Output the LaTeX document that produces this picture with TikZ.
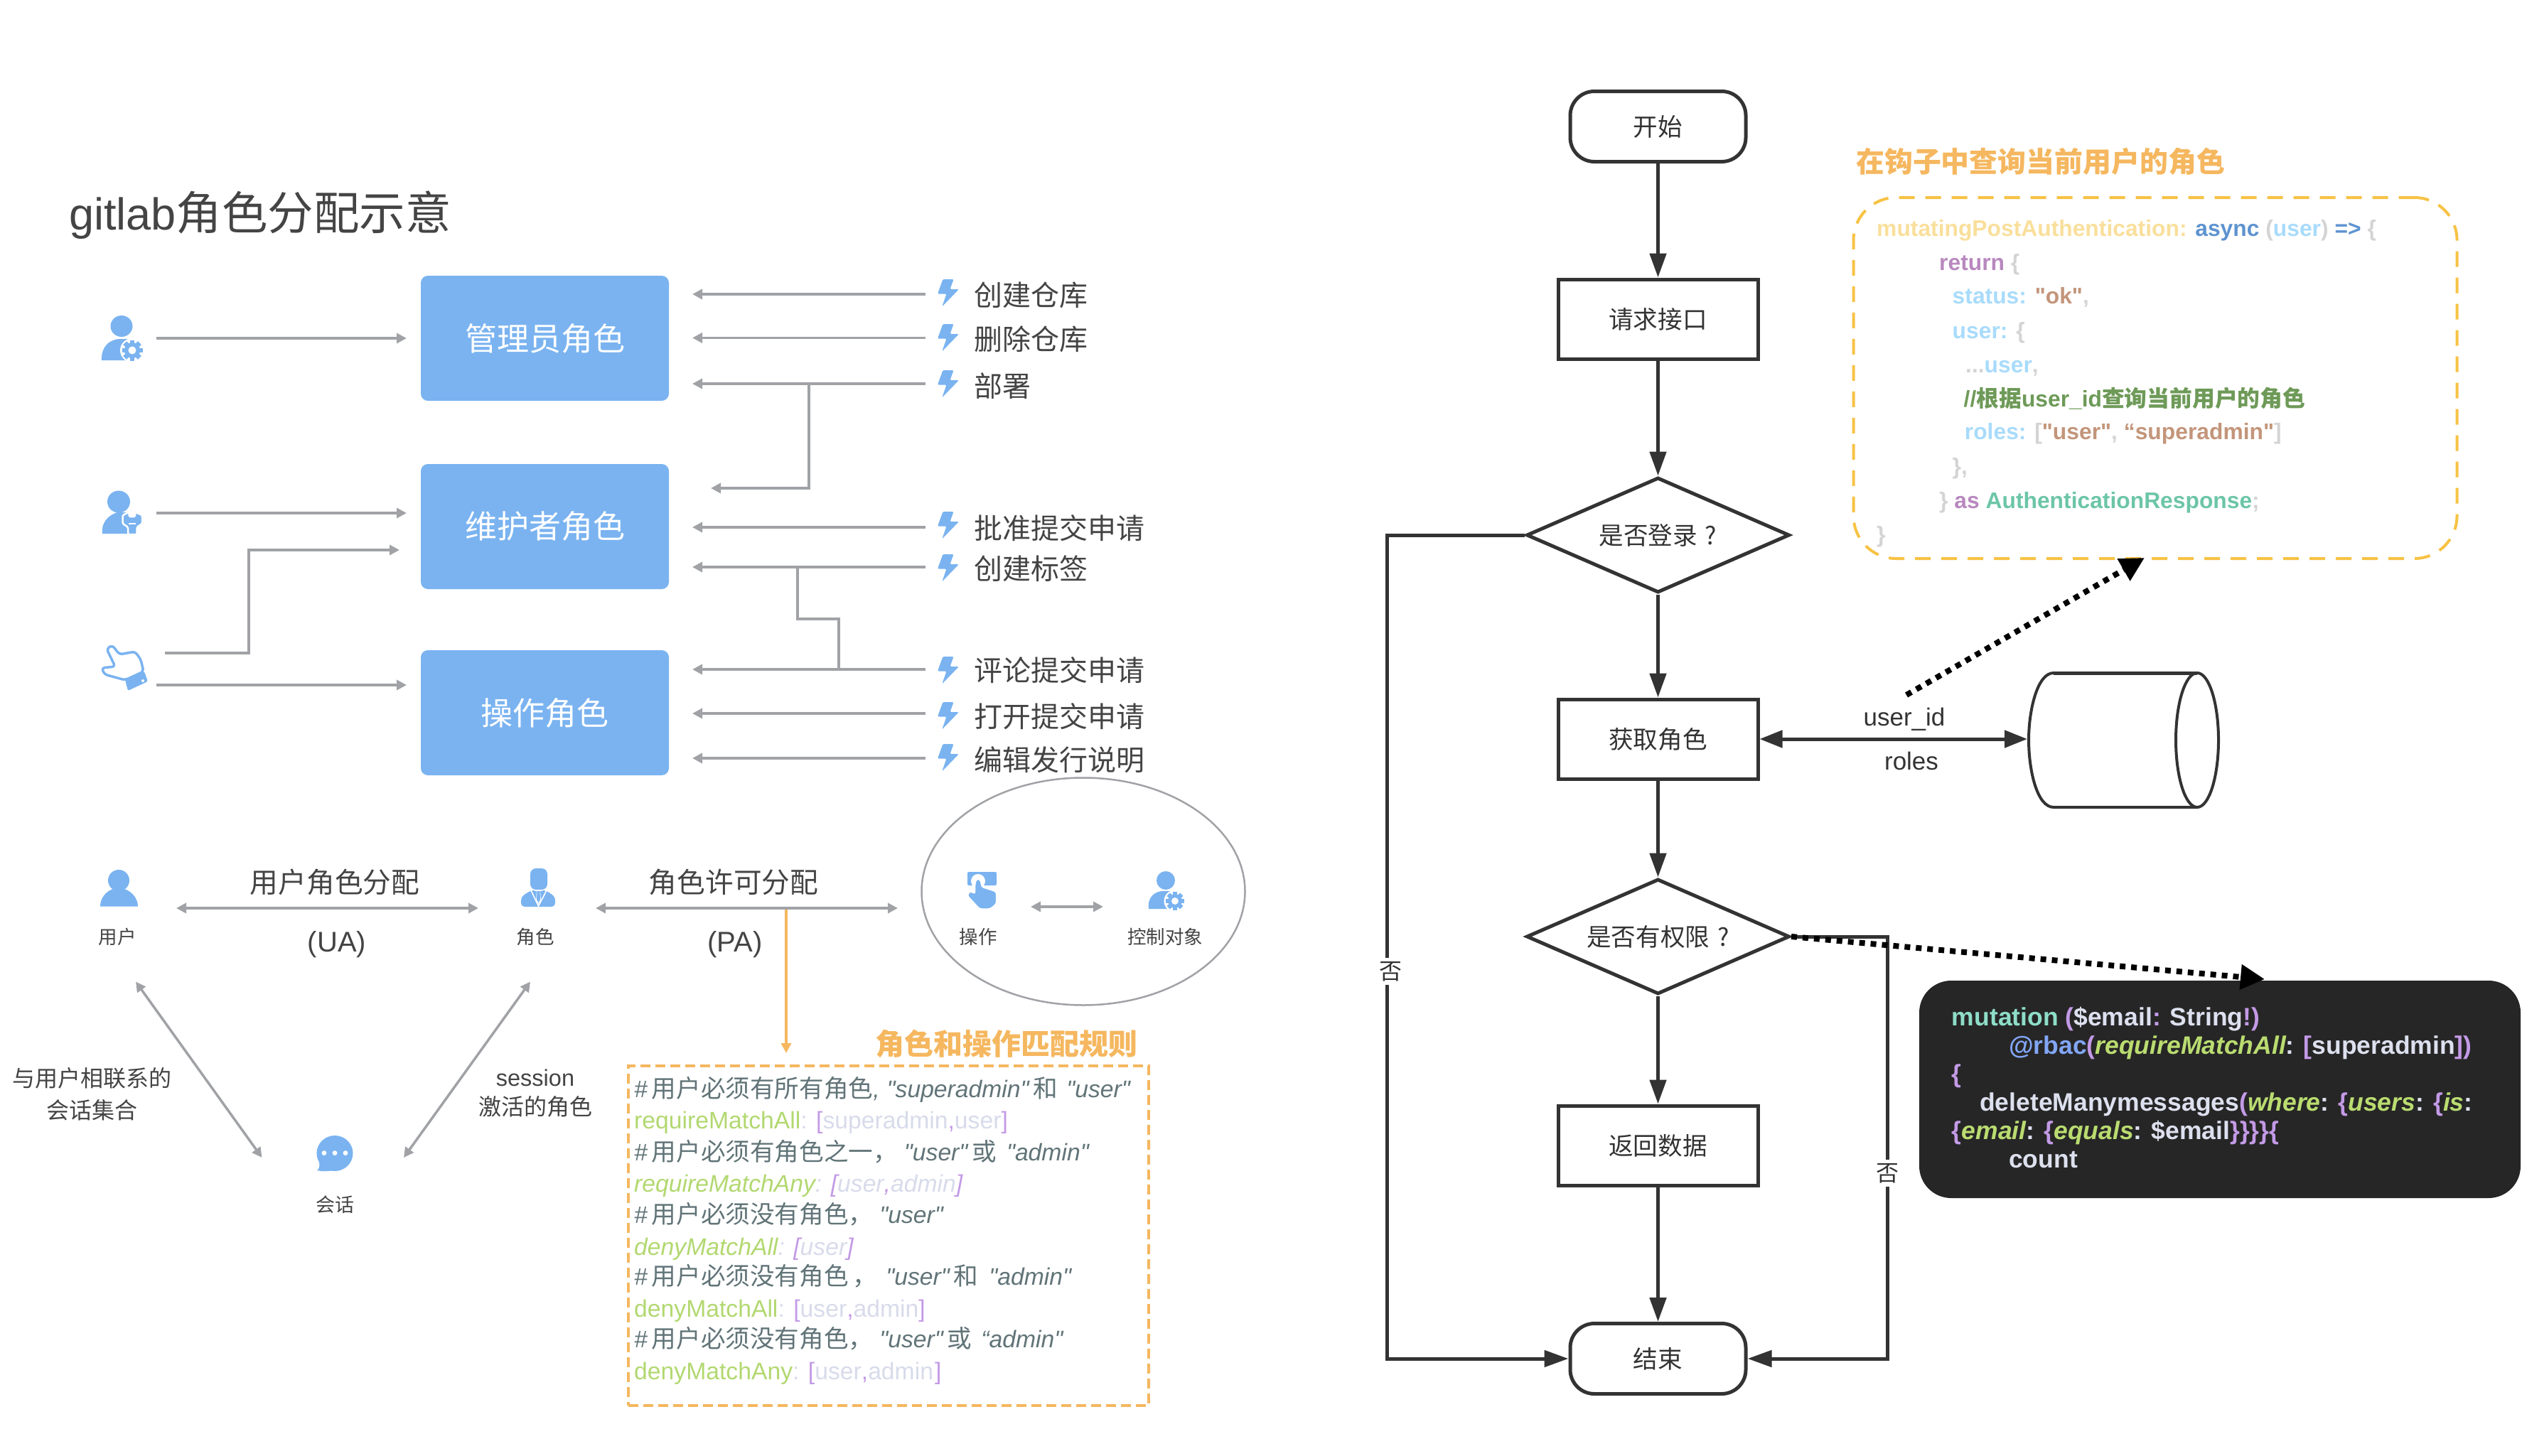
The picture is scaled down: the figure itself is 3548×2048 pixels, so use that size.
\documentclass[tikz,border=0pt]{standalone}
\usepackage{fontspec}
\usetikzlibrary{arrows.meta,shapes.geometric}
\setmainfont{Liberation Sans}
\newfontfamily\latinf{Liberation Sans}
\AtBeginDocument{\latinf}
\newfontfamily\zhfont{Noto Sans CJK SC}
\newcommand\zh[1]{{\zhfont #1}}
\newcommand\fs[1]{\fontsize{#1}{#1}\selectfont}
\newcommand\zb[1]{{\zhfont\fs{34.6}#1}}
\definecolor{iconblue}{HTML}{7AB3F0}
\definecolor{linegray}{HTML}{A0A2A6}
\definecolor{inkgray}{HTML}{444444}
\definecolor{flowink}{HTML}{333333}
\definecolor{orangeline}{HTML}{F5B75F}
\definecolor{yellowline}{HTML}{F7C244}
\definecolor{cmt}{HTML}{617478}
\definecolor{gr}{HTML}{B2D870}
\definecolor{pu}{HTML}{C39AE6}
\definecolor{lav}{HTML}{D7DBEA}
\definecolor{cya}{HTML}{F9DF9B}
\definecolor{cbl}{HTML}{5E93D0}
\definecolor{clb}{HTML}{A8DBFB}
\definecolor{cgy}{HTML}{D4D4D4}
\definecolor{cpu}{HTML}{B888BE}
\definecolor{cbr}{HTML}{C3957A}
\definecolor{cgn}{HTML}{6E9A58}
\definecolor{ctl}{HTML}{6CC5A8}
\definecolor{dte}{HTML}{8EDDC8}
\definecolor{dbl}{HTML}{82A6F6}
\definecolor{dwh}{HTML}{DDE0EE}
\definecolor{dgr}{HTML}{BADC70}
\newcommand\gearicon[3]{%
  \fill[white] (#1,#2) circle ({#3+2.5});
  \foreach \a in {0,45,...,315}
    \fill[iconblue,rotate around={\a:(#1,#2)}] ({#1-#3*0.22},{#2-#3}) rectangle ({#1+#3*0.22},{#2+#3});
  \fill[iconblue] (#1,#2) circle ({#3*0.76});
  \fill[white] (#1,#2) circle ({#3*0.38});
}
\tikzset{
  role/.style={rectangle,rounded corners=10pt,fill=iconblue,minimum width=349pt,minimum height=176pt,inner sep=0pt,text=white,font=\zhfont\fs{45}},
  act/.style={anchor=west,inner sep=0pt,text=inkgray,font=\zhfont\fs{40}},
  lbl/.style={inner sep=0pt,text=inkgray,align=center},
  grayline/.style={draw=linegray,line width=3.5pt},
  grayarr/.style={grayline,-{Triangle[length=14pt,width=14pt]}},
  graydbl/.style={grayline,{Triangle[length=14pt,width=14pt]}-{Triangle[length=14pt,width=14pt]}},
  boltpic/.pic={\fill[iconblue,rounded corners=1.5pt] (-7.6,-19)--(7.6,-19)--(2.5,-5)--(15,-5)--(-8.7,19.5)--(-2.5,1.5)--(-15,1.5)--cycle;},
  code/.style={anchor=base west,inner sep=0pt},
  cl/.style={code,font=\fs{33.7}},
  hk/.style={code,font=\fs{31.8}\bfseries},
  dk/.style={code,font=\fs{35.5}\bfseries},
  flowbox/.style={rectangle,draw=flowink,line width=5pt,minimum width=281pt,minimum height=112pt,inner sep=0pt,text=flowink,font=\zhfont\fs{34.6}},
  terminal/.style={flowbox,rounded corners=34pt,minimum width=247pt,minimum height=99pt},
  decision/.style={diamond,aspect=2.27,draw=flowink,line width=5pt,minimum width=370pt,minimum height=162pt,inner sep=0pt,text=flowink,font=\zhfont\fs{34.6}},
  flow/.style={draw=flowink,line width=5pt,-{Triangle[length=34pt,width=23pt]}},
  dotarr/.style={draw=black,line width=8pt,dash pattern=on 8pt off 8pt,-{Triangle[length=34pt,width=34pt]}},
}
\begin{document}
\begin{tikzpicture}[x=1pt,y=-1pt]
\useasboundingbox (0,0) rectangle (3548,2048);
% title
\node[anchor=west,inner sep=0pt,text=inkgray,font=\fs{63}] (title) at (97,303) {gitlab{\zhfont\fs{64.5}角色分配示意}};
% role boxes
\node[role] (admin) at (766.5,476) {管理员角色};
\node[role] (maint) at (766.5,741) {\raisebox{2pt}{维护者角色}};
\node[role] (oper) at (766.5,1003) {\raisebox{2pt}{操作角色}};
% icon: person with gear
\fill[iconblue] (171,459) ellipse [x radius=15.5,y radius=15];
\fill[iconblue] (143,507) .. controls (142,490) and (152,478) .. (168,477) -- (182,477) -- (190,507) -- cycle;
\gearicon{186}{493}{14.5}
% icon: person with wrench
\fill[iconblue] (167,706) ellipse [x radius=16,y radius=15.5];
\fill[iconblue] (144,751) .. controls (142,736) and (152,725) .. (165,721) -- (182,721) -- (182,751) -- cycle;
\filldraw[iconblue,draw=white,line width=2.5pt,rounded corners=1.5pt] (172.7,725)--(181.7,720.7)--(181.7,727)--(190,727)--(190,720.7)--(200,725)--(200,737)--(192.7,741.7)--(192.7,752)--(180,752)--(180,741.7)--(172.7,737)--cycle;
\draw[white,line width=2pt] (181,737) -- (191,737);
% icon: hand
\draw[iconblue,line width=3.5pt,line join=round,rounded corners=4pt] (150,913)--(158,908)--(168,921)--(190,917)--(198,928)--(202,945)--(176,957)--(147,949)--(143,940)--(162,938)--cycle;
\fill[iconblue,rounded corners=2pt] (176,957)--(203,945)--(208,959)--(180,972)--cycle;
\fill[white] (201,958) circle (2);
% left arrows
\coordinate (a1s) at (220,476); \coordinate (a1e) at (572,476);
\coordinate (a2s) at (220,722); \coordinate (a2e) at (572,722);
\coordinate (a3s) at (232,919); \coordinate (a3m) at (350,774); \coordinate (a3e) at (562,774);
\coordinate (a4s) at (220,964); \coordinate (a4e) at (572,964);
\draw[grayarr] (a1s) -- (a1e);
\draw[grayarr] (a2s) -- (a2e);
\draw[grayarr] (a3s) -| (a3m) -- (a3e);
\draw[grayarr] (a4s) -- (a4e);
% actions
\foreach \nm/\by/\ty/\ly/\tx in {c1/412/415/414/创建仓库,c2/475/477/475.5/删除仓库,c3/540/543/540/部署,c4/739/743/742/批准提交申请,c5/799/800/798/创建标签,c6/943/943/942/评论提交申请,c7/1007/1008/1004/打开提交申请,c8/1066/1069/1067/编辑发行说明}{
  \pic at (1334,\by) {boltpic};
  \node[act] (\nm) at (1370,\ty) {\tx};
  \coordinate (\nm s) at (1302,\ly);
  \coordinate (\nm e) at (974,\ly);
  \draw[grayarr] (\nm s) -- (\nm e);
}
\coordinate (e1) at (1138,540); \coordinate (e2) at (1000,687);
\draw[grayarr] (e1) |- (e2);
\coordinate (e3) at (1180,942); \coordinate (e4) at (1122,871); \coordinate (e5) at (1122,798);
\draw[grayline] (e3) |- (e4) -- (e5);
% RBAC row: user
\fill[iconblue] (167,1239) ellipse [x radius=15,y radius=15];
\fill[iconblue] (141,1275.5) .. controls (141,1263) and (150,1254) .. (159,1251) -- (175,1251) .. controls (184,1254) and (194,1263) .. (194,1275.5) -- cycle;
\node[lbl,font=\zhfont\fs{26.5}] (ulabel) at (165,1318) {用户};
% role icon
\fill[iconblue,rounded corners=8pt] (746,1222) rectangle (770,1252);
\fill[iconblue,rounded corners=5pt] (733,1276) -- (733,1262) -- (747,1253) -- (768,1253) -- (781,1262) -- (781,1276) -- cycle;
\draw[white,line width=1.6pt] (747,1253) -- (757.5,1275) -- (769,1253);
\fill[white] (752,1252) rectangle (763,1254);
\fill[white] (755,1254) -- (760,1254) -- (761,1267) -- (757.5,1272) -- (754,1267) -- cycle;
\fill[iconblue] (755.5,1254) -- (759.5,1254) -- (760,1266) -- (757.5,1270) -- (755,1266) -- cycle;
\node[lbl,font=\zhfont\fs{26.5}] (rlabel) at (753,1318) {角色};
% session icon
\fill[iconblue] (471,1623) ellipse [x radius=25.5,y radius=25];
\fill[iconblue] (449,1636) .. controls (450,1642) and (449,1645) .. (446,1647) .. controls (455,1649) and (462,1648) .. (470,1647) -- cycle;
\foreach \x in {456,471,486} \fill[white] (\x,1622.6) circle (3.4);
\node[lbl,font=\zhfont\fs{27}] (slabel) at (471,1695.5) {会话};
% RBAC arrows and labels
\coordinate (ua1) at (248,1278); \coordinate (ua2) at (673,1278);
\coordinate (pa1) at (838,1278); \coordinate (pa2) at (1263,1278);
\draw[graydbl] (ua1) -- (ua2);
\draw[graydbl] (pa1) -- (pa2);
\coordinate (t1) at (191,1381.5); \coordinate (t2) at (368.5,1629);
\coordinate (t3) at (746,1381.5); \coordinate (t4) at (568,1629);
\draw[graydbl] (t1) -- (t2);
\draw[graydbl] (t3) -- (t4);
\node[lbl,font=\zhfont\fs{39.7}] (uat) at (471,1241) {用户角色分配};
\node[lbl,font=\fs{40}] (uab) at (474,1329) {(UA)};
\node[lbl,font=\zhfont\fs{39.7}] (pat) at (1032,1241) {角色许可分配};
\node[lbl,font=\fs{40}] (pab) at (1034,1329) {(PA)};
\node[lbl,font=\zhfont\fs{32}] (l1) at (129,1517) {与用户相联系的};
\node[lbl,font=\zhfont\fs{32}] (l2) at (129,1562) {会话集合};
\node[lbl,font=\fs{32.5}] (l3) at (753,1517) {session};
\node[lbl,font=\zhfont\fs{32}] (l4) at (753,1557) {激活的角色};
% ellipse group
\node[ellipse,draw=linegray,line width=2.5pt,minimum width=455pt,minimum height=320pt,inner sep=0pt] (ctrl) at (1524,1254.5) {};
\fill[iconblue,rounded corners=2pt] (1361,1227) rectangle (1402,1246);
\fill[white] (1376,1240) circle (10);
\filldraw[iconblue,draw=white,line width=1.5pt,rounded corners=3pt] (1371.7,1258)--(1371.7,1243)--(1374,1237)--(1378,1237)--(1380.7,1243)--(1380.7,1248)--(1401.7,1255)--(1401.7,1272)--(1393,1279)--(1378,1279)--(1360.7,1260)--(1365,1254)--cycle;
\node[lbl,font=\zhfont\fs{26.5}] (oplabel) at (1376,1318) {操作};
\fill[iconblue] (1640,1239) circle (13);
\fill[iconblue] (1616,1279) .. controls (1614,1265) and (1622,1255) .. (1635,1254) -- (1650,1254) -- (1655,1279) -- cycle;
\gearicon{1653}{1268}{13}
\node[lbl,font=\zhfont\fs{26.5}] (oblabel) at (1639,1318) {控制对象};
\coordinate (c1a) at (1450,1276); \coordinate (c1b) at (1552,1276);
\draw[graydbl] (c1a) -- (c1b);
% rules
\coordinate (o1) at (1106,1280); \coordinate (o2) at (1106,1482);
\draw[draw=orangeline,line width=3.5pt,-{Triangle[length=14pt,width=14pt]}] (o1) -- (o2);
\node[inner sep=0pt,text=orangeline,font=\zhfont\bfseries\fs{41}] (rulet) at (1416,1469) {角色和操作匹配规则};
\node[rectangle,draw=orangeline,line width=4pt,dash pattern=on 14pt off 7pt,minimum width=732pt,minimum height=478pt,inner sep=0pt] (rulebox) at (1250,1739) {};
\node[cl,text=cmt] (r1) at (892,1544) {\itshape \#\hspace{6pt}\zb{用户必须有所有角色},\hspace{10pt}"superadmin"\hspace{6pt}\zb{和}\hspace{12pt}"user"};
\node[cl,text=gr] (r2) at (892,1588) {requireMatchAll\textcolor{lav}{:} \textcolor{pu}{[}\textcolor{lav}{superadmin}\textcolor{pu}{,}\textcolor{lav}{user}\textcolor{pu}{]}};
\node[cl,text=cmt] (r3) at (892,1633) {\itshape \#\hspace{6pt}\zb{用户必须有角色之一，}\hspace{9pt}"user"\hspace{6pt}\zb{或}\hspace{14pt}"admin"};
\node[cl,text=gr] (r4) at (892,1677) {\itshape requireMatchAny\textcolor{lav}{:} \textcolor{pu}{[}\textcolor{lav}{user}\textcolor{pu}{,}\textcolor{lav}{admin}\textcolor{pu}{]}};
\node[cl,text=cmt] (r5) at (892,1721) {\itshape \#\hspace{6pt}\zb{用户必须没有角色，}\hspace{9pt}"user"};
\node[cl,text=gr] (r6) at (892,1766) {\itshape denyMatchAll\textcolor{lav}{:} \textcolor{pu}{[}\textcolor{lav}{user}\textcolor{pu}{]}};
\node[cl,text=cmt] (r7) at (892,1808) {\itshape \#\hspace{6pt}\zb{用户必须没有角色\hspace{6pt}，}\hspace{12pt}"user"\hspace{6pt}\zb{和}\hspace{15pt}"admin"};
\node[cl,text=gr] (r8) at (892,1853) {denyMatchAll\textcolor{lav}{:} \textcolor{pu}{[}\textcolor{lav}{user}\textcolor{pu}{,}\textcolor{lav}{admin}\textcolor{pu}{]}};
\node[cl,text=cmt] (r9) at (892,1896) {\itshape \#\hspace{6pt}\zb{用户必须没有角色，}\hspace{9pt}"user"\hspace{6pt}\zb{或}\hspace{13pt}“admin"};
\node[cl,text=gr] (r10) at (892,1941) {denyMatchAny\textcolor{lav}{:} \textcolor{pu}{[}\textcolor{lav}{user}\textcolor{pu}{,}\textcolor{lav}{admin}\hspace{2pt}\textcolor{pu}{]}};
% flowchart
\node[terminal] (start) at (2332.5,178) {\raisebox{-2pt}{开始}};
\node[flowbox] (req) at (2332.5,449) {\raisebox{-1pt}{请求接口}};
\node[decision] (login) at (2332.5,753) {是否登录\hspace{11pt}?\hspace{10pt}};
\node[flowbox] (get) at (2332.5,1040) {获取角色};
\node[decision] (perm) at (2332.5,1318) {是否有权限\hspace{11pt}?\hspace{13pt}};
\node[flowbox] (ret) at (2332.5,1612) {返回数据};
\node[terminal] (end) at (2332.5,1912) {结束};
\draw[flow] (start) -- (req);
\draw[flow] (req) -- (login);
\draw[flow] (login) -- (get);
\draw[flow] (get) -- (perm);
\draw[flow] (perm) -- (ret);
\draw[flow] (ret) -- (end);
\coordinate (lft) at (1951,1912);
\coordinate (rgt) at (2655,1912);
\draw[flow] (login.west) -| (lft) -- (end.west);
\draw[flow] (perm.east) -| (rgt) -- (end.east);
\node[inner sep=5pt,fill=white,text=flowink,font=\zhfont\fs{32}] (no1) at (1956,1367) {否};
\node[inner sep=5pt,fill=white,text=flowink,font=\zhfont\fs{32}] (no2) at (2655,1651) {否};
% database
\draw[flowink,line width=4pt] (2889,947) .. controls (2866,947) and (2854,1000) .. (2854,1041) .. controls (2854,1085) and (2866,1136) .. (2889,1136) -- (3091,1136);
\draw[flowink,line width=5pt] (2889,947) -- (3091,947);
\draw[flowink,line width=4pt] (3091,1041.5) ellipse [x radius=30,y radius=94.5];
\coordinate (db) at (2852,1040);
\draw[draw=flowink,line width=5pt,{Triangle[length=32pt,width=24pt]}-{Triangle[length=32pt,width=24pt]}] (get.east) -- (db);
\node[inner sep=0pt,text=flowink,font=\fs{35}] (uid) at (2679,1012) {user\_id};
\node[inner sep=0pt,text=flowink,font=\fs{35}] (rls) at (2689,1071) {roles};
% hook code
\node[anchor=west,inner sep=0pt,text=orangeline,font=\zhfont\bfseries\fs{39.9}] (hookt) at (2611,227) {在钩子中查询当前用户的角色};
\node[rectangle,rounded corners=60pt,draw=yellowline,line width=4pt,dash pattern=on 22pt off 15pt,minimum width=849pt,minimum height=508pt,inner sep=0pt] (hookbox) at (3032,532) {};
\node[hk,text=cya] (h1) at (2640,332) {mutatingPostAuthentication: \textcolor{cbl}{async} \textcolor{cgy}{(}\textcolor{clb}{user}\textcolor{cgy}{)} \textcolor{cbl}{=>} \textcolor{cgy}{\{}};
\node[hk,text=cpu] (h2) at (2728,380) {return \textcolor{cgy}{\{}};
\node[hk,text=clb] (h3) at (2746.5,427.5) {status: \textcolor{cbr}{"ok"}\textcolor{cgy}{,}};
\node[hk,text=clb] (h4) at (2746.5,476) {user: \textcolor{cgy}{\{}};
\node[hk,text=clb] (h5) at (2765,524) {\textcolor{cgy}{...}user\textcolor{cgy}{,}};
\node[hk,text=cgn] (h6) at (2762.5,572) {//\zh{根据}user\_id\zh{查询当前用户的角色}};
\node[hk,text=clb] (h7) at (2763.7,618.6) {roles: \textcolor{cgy}{[}\textcolor{cbr}{"user"}\textcolor{cgy}{,} \textcolor{cbr}{“superadmin"}\textcolor{cgy}{]}};
\node[hk,text=cgy] (h8) at (2746.5,667.5) {\},};
\node[hk,text=cgy] (h9) at (2728,715.7) {\} \textcolor{cpu}{as} \textcolor{ctl}{AuthenticationResponse}\textcolor{cgy}{;}};
\node[hk,text=cgy] (h10) at (2640,763.5) {\}};
% dark box
\node[rectangle,rounded corners=45pt,fill=black!85,minimum width=846pt,minimum height=306pt,inner sep=0pt] (darkbox) at (3123,1533) {};
\node[dk,text=dwh] (d1) at (2745.7,1443) {\textcolor{dte}{mutation} \textcolor{pu}{(}\$email\textcolor{pu}{:} String\textcolor{pu}{!)}};
\node[dk,text=dwh] (d2) at (2826,1483) {\textcolor{dbl}{@rbac}\textcolor{pu}{(}\textcolor{dgr}{\itshape requireMatchAll}: \textcolor{pu}{[}superadmin\textcolor{pu}{])}};
\node[dk,text=pu] (d3) at (2745.7,1523) {\{};
\node[dk,text=dwh] (d4) at (2785,1563) {deleteManymessages\textcolor{pu}{(}\textcolor{dgr}{\itshape where}: \textcolor{pu}{\{}\textcolor{dgr}{\itshape users}: \textcolor{pu}{\{}\textcolor{dgr}{\itshape is}:};
\node[dk,text=dwh] (d5) at (2745.7,1603) {\textcolor{pu}{\{}\textcolor{dgr}{\itshape email}: \textcolor{pu}{\{}\textcolor{dgr}{\itshape equals}: \$email\textcolor{pu}{\}\}\}\}\{}};
\node[dk,text=dwh] (d6) at (2826,1643) {count};
% dotted arrows
\coordinate (dot1s) at (2682,978); \coordinate (dot1e) at (3017,785);
\coordinate (dot2e) at (3186,1378);
\draw[dotarr] (dot1s) -- (dot1e);
\draw[dotarr] (perm.east) -- (dot2e);
\end{tikzpicture}
\end{document}
